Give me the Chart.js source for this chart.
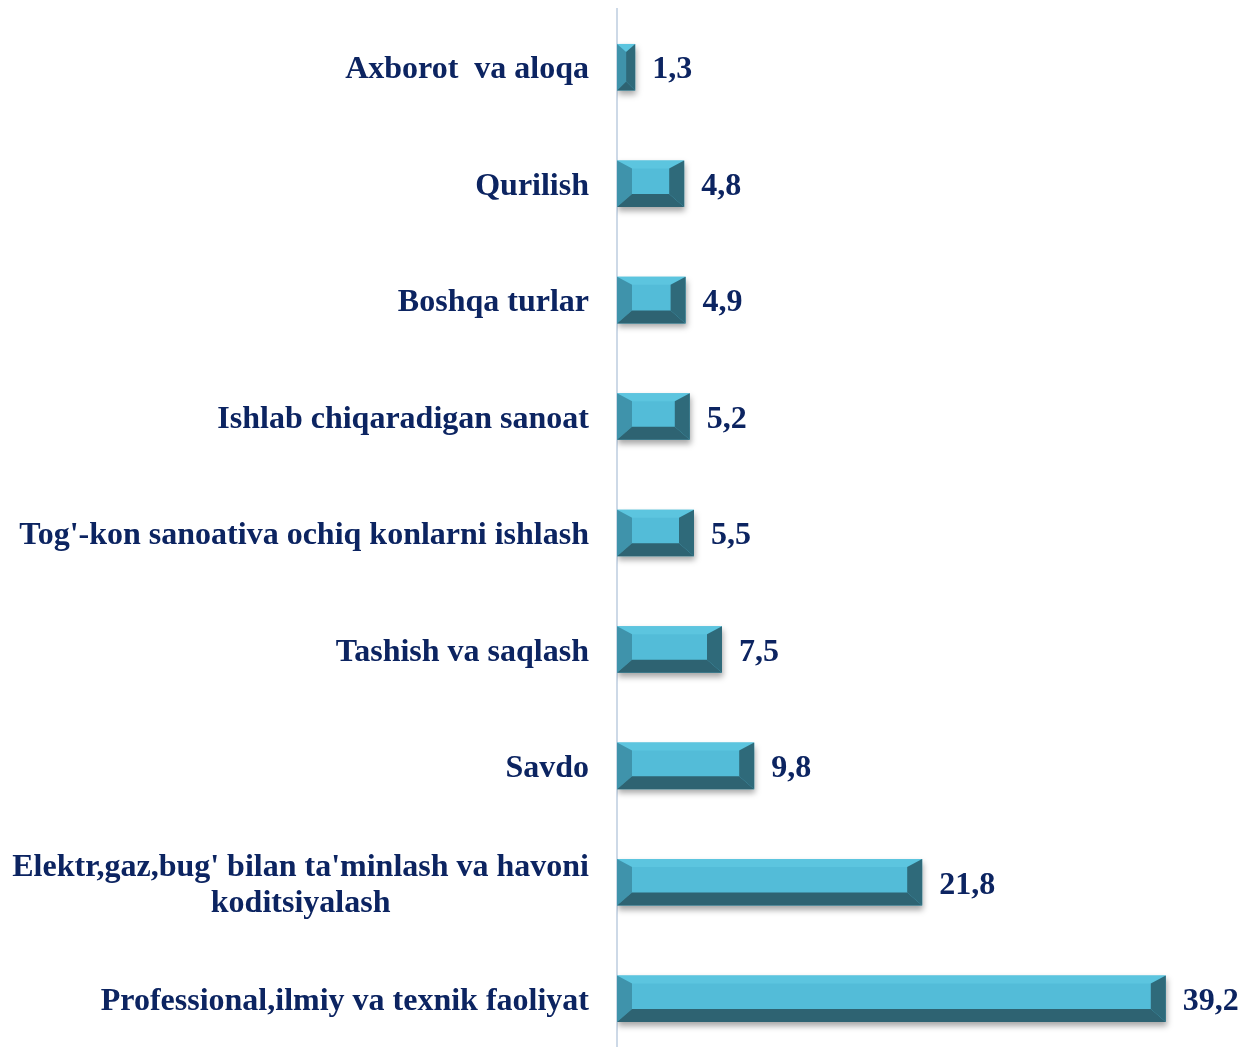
<!DOCTYPE html>
<html>
<head>
<meta charset="utf-8">
<script src="https://cdn.jsdelivr.net/npm/chart.js@4.4.0/dist/chart.umd.min.js"></script>
<style>
  html, body { margin: 0; padding: 0; background: #fff; overflow: hidden; }
  #wrap { width: 1255px; height: 1060px; }
</style>
</head>
<body>
<div id="wrap"><canvas id="chart"></canvas></div>
<script>
// MARK: - Data
const categories = [
  'Axborot  va aloqa',
  'Qurilish',
  'Boshqa turlar',
  'Ishlab chiqaradigan sanoat',
  "Tog'-kon sanoativa ochiq konlarni ishlash",
  'Tashish va saqlash',
  'Savdo',
  ["Elektr,gaz,bug' bilan ta'minlash va havoni", 'koditsiyalash'],
  'Professional,ilmiy va texnik faoliyat'
];
const values = [1.3, 4.8, 4.9, 5.2, 5.5, 7.5, 9.8, 21.8, 39.2];

const textColor = '#0c2461';
const labelFont = 'bold 32px "Liberation Serif", "Times New Roman", serif';

// bevel on each bar + labels
const bevelPlugin = {
  id: 'bevel',
  beforeDatasetsDraw(chart) {
    const ctx = chart.ctx;
    ctx.save();
    ctx.shadowColor = 'rgba(0,0,0,0.35)';
    ctx.shadowBlur = 6;
    ctx.shadowOffsetY = 4;
    ctx.shadowOffsetX = 1;
  },
  afterDatasetsDraw(chart) {
    const ctx = chart.ctx;
    ctx.restore();
    const meta = chart.getDatasetMeta(0);
    meta.data.forEach(function(bar, i) {
      const l = bar.base, r = bar.x;
      const t = bar.y - bar.height / 2, b = bar.y + bar.height / 2;
      const w = r - l;
      const side = Math.min(15, w / 2);
      const top = Math.min(8, side);
      const bot = Math.min(13, side);

      function poly(pts, color) {
        ctx.beginPath();
        ctx.moveTo(pts[0][0], pts[0][1]);
        for (let k = 1; k < pts.length; k++) ctx.lineTo(pts[k][0], pts[k][1]);
        ctx.closePath();
        ctx.fillStyle = color;
        ctx.fill();
      }
      // top
      poly([[l, t], [r, t], [r - side, t + top], [l + side, t + top]], '#5cc5df');
      // left
      poly([[l, t], [l + side, t + top], [l + side, b - bot], [l, b]], '#3f93ab');
      // right
      poly([[r, t], [r, b], [r - side, b - bot], [r - side, t + top]], '#2f6a7a');
      // bottom
      poly([[l, b], [r, b], [r - side, b - bot], [l + side, b - bot]], '#2e6372');

      // value label
      ctx.font = labelFont;
      ctx.fillStyle = textColor;
      ctx.textAlign = 'left';
      ctx.textBaseline = 'middle';
      ctx.fillText(values[i].toFixed(1).replace('.', ','), r + 17, bar.y + 3);
    });

    // category labels
    const yScale = chart.scales.y;
    const xRight = chart.chartArea.left - 28;
    ctx.font = labelFont;
    ctx.fillStyle = textColor;
    ctx.textBaseline = 'middle';
    categories.forEach(function(cat, i) {
      const y = yScale.getPixelForValue(i) + 3;
      if (Array.isArray(cat)) {
        const lh = 36;
        ctx.textAlign = 'center';
        const w0 = ctx.measureText(cat[0]).width;
        const cx = xRight - w0 / 2;
        cat.forEach(function(line, k) {
          ctx.fillText(line, cx, y + (k - (cat.length - 1) / 2) * lh);
        });
      } else {
        ctx.textAlign = 'right';
        ctx.fillText(cat, xRight, y);
      }
    });
  }
};

new Chart(document.getElementById('chart').getContext('2d'), {
  type: 'bar',
  data: {
    labels: categories,
    datasets: [{
      data: values,
      backgroundColor: '#53bcd8',
      borderWidth: 0,
      categoryPercentage: 1,
      barPercentage: 0.4
    }]
  },
  options: {
    indexAxis: 'y',
    responsive: true,
    maintainAspectRatio: false,
    animation: false,
    layout: { padding: { left: 617, right: 8, top: 9, bottom: 3 } },
    plugins: { legend: { display: false }, tooltip: { enabled: false } },
    scales: {
      x: { display: false, min: 0, max: 45 },
      y: {
        ticks: { display: false },
        grid: { display: false, drawTicks: false },
        border: { display: true, color: '#cdd9e7', width: 2 }
      }
    }
  },
  plugins: [bevelPlugin]
});
</script>
</body>
</html>
